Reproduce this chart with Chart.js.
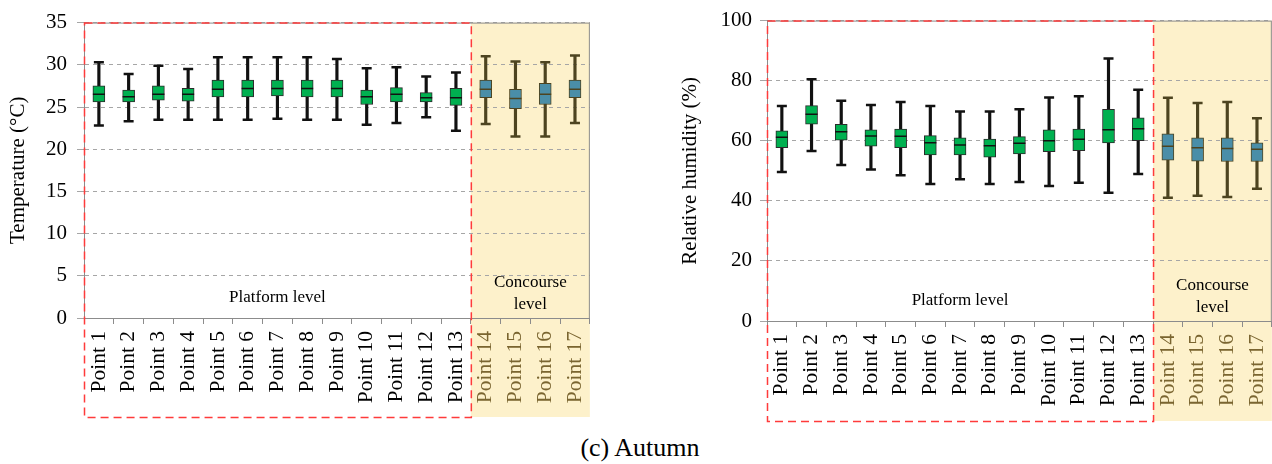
<!DOCTYPE html>
<html>
<head>
<meta charset="utf-8">
<script src="https://cdn.jsdelivr.net/npm/chart.js@4.4.1/dist/chart.umd.min.js"></script>
<style>
  body { margin: 0; background: #fff; width: 1272px; height: 464px; position: relative; overflow: hidden; }
  .wrap { position: absolute; top: 0; }
  #caption { position: absolute; left: 0; width: 1280px; top: 433px; text-align: center;
             font-family: "Liberation Serif", "Times New Roman", serif; font-size: 26px; color: #000; }
</style>
</head>
<body>
<div class="wrap" style="left:0px"><canvas id="chartTemp" width="608" height="420"></canvas></div>
<div class="wrap" style="left:636px"><canvas id="chartRh" width="654" height="424"></canvas></div>
<div id="caption">(c) Autumn</div>
<script>
  "use strict";

  var pointLabels = ["Point 1","Point 2","Point 3","Point 4","Point 5","Point 6","Point 7","Point 8","Point 9",
                     "Point 10","Point 11","Point 12","Point 13","Point 14","Point 15","Point 16","Point 17"];
  var platformCount = 13; // points 1-13 on the platform, 14-17 on the concourse

  // temperature (°C)
  var tempMin    = [22.8,23.3,23.5,23.5,23.5,23.5,23.6,23.5,23.5,22.9,23.1,23.8,22.2, 23.0,21.5,21.5,23.1];
  var tempQ1     = [25.6,25.6,25.8,25.7,26.2,26.2,26.3,26.2,26.2,25.3,25.6,25.6,25.2, 26.1,24.8,25.3,26.1];
  var tempMedian = [26.5,26.2,26.5,26.5,27.1,27.2,27.2,27.2,27.2,26.2,26.5,26.1,26.1, 27.1,26.0,26.5,27.1];
  var tempQ3     = [27.5,27.0,27.5,27.2,28.2,28.2,28.2,28.2,28.2,27.0,27.3,26.7,27.2, 28.2,27.1,27.8,28.2];
  var tempMax    = [30.3,28.9,29.9,29.5,30.9,30.9,30.9,30.9,30.7,29.6,29.7,28.6,29.1, 31.0,30.4,30.3,31.1];

  // relative humidity (%)
  var rhMin    = [49.6,56.6,51.9,50.4,48.5,45.6,47.2,45.6,46.3,44.9,46.0,42.7,48.9, 41.0,41.7,41.3,44.0];
  var rhQ1     = [57.7,65.5,60.2,58.2,57.7,55.3,55.3,54.5,55.6,56.4,56.7,59.3,60.0, 53.5,53.2,53.1,53.1];
  var rhMedian = [61.2,68.8,63.0,61.6,61.5,59.3,58.6,58.3,59.2,60.0,60.5,63.7,64.0, 58.2,57.7,57.4,57.2];
  var rhQ3     = [63.3,71.7,65.5,63.6,63.9,61.7,61.0,60.6,61.4,63.6,63.9,70.5,67.6, 62.3,61.0,61.0,59.3];
  var rhMax    = [71.6,80.5,73.3,71.9,72.9,71.6,69.7,69.7,70.5,74.4,74.8,87.4,77.0, 74.3,72.6,72.9,67.5];

  var serif = "'Liberation Serif', 'Times New Roman', serif";
  var axisGray = "#8c8c8c";
  var shade = "#fdf1cb";

  function perPoint(platformColor, concourseColor) {
    return pointLabels.map(function(_, i) { return i < platformCount ? platformColor : concourseColor; });
  }

  // shading, plot frame, dashed region outline and region captions
  var regionPlugin = {
    id: "regions",
    beforeDraw: function(chart) {
      var ctx = chart.ctx, a = chart.chartArea, x = chart.scales.x;
      var split = (x.getPixelForValue(platformCount - 1) + x.getPixelForValue(platformCount)) / 2;
      ctx.save();
      ctx.fillStyle = shade;
      ctx.fillRect(split, a.top, a.right - split, x.bottom + 1 - a.top);
      ctx.restore();
    },
    afterDraw: function(chart) {
      var ctx = chart.ctx, a = chart.chartArea, x = chart.scales.x;
      var split = (x.getPixelForValue(platformCount - 1) + x.getPixelForValue(platformCount)) / 2;
      ctx.save();
      ctx.strokeStyle = axisGray;
      ctx.lineWidth = 1;
      ctx.strokeRect(a.left + 0.5, a.top + 0.5, a.right - a.left - 1, a.bottom - a.top);

      ctx.strokeStyle = "#ff3b3b";
      ctx.lineWidth = 1.5;
      ctx.setLineDash([8, 5]);
      ctx.strokeRect(a.left + 0.5, a.top + 0.5, split - a.left, x.bottom + 1 - a.top);
      ctx.setLineDash([]);

      ctx.fillStyle = "#000";
      ctx.font = "17px " + serif;
      ctx.textAlign = "center";
      ctx.textBaseline = "middle";
      ctx.fillText("Platform level", (a.left + split) / 2, a.bottom - 20);
      ctx.fillText("Concourse", (split + a.right) / 2, a.bottom - 35);
      ctx.fillText("level", (split + a.right) / 2, a.bottom - 13);
      ctx.restore();
    }
  };

  function boxChart(canvasId, lo, q1, med, q3, hi, yMax, yStep, yTitle, opts) {
    var whiskerColor = perPoint("#111111", "#4d4420");
    return new Chart(document.getElementById(canvasId).getContext("2d"), {
      type: "bar",
      data: {
        labels: pointLabels,
        datasets: [
          { // whisker line from min to max
            type: "bar", order: 4, grouped: false,
            data: lo.map(function(v, i) { return [v, hi[i]]; }),
            backgroundColor: whiskerColor, barThickness: 2.5
          },
          { // interquartile box
            type: "bar", order: 3, grouped: false,
            data: q1.map(function(v, i) { return [v, q3[i]]; }),
            backgroundColor: perPoint("#00b050", "#4a8ea8"),
            borderColor: perPoint("#2b2b2b", "#4d4420"),
            borderWidth: 1, borderSkipped: false, barThickness: 12
          },
          { // upper cap
            type: "line", order: 2, data: hi, showLine: false,
            pointStyle: "line", pointRadius: 5, pointBorderWidth: 2.5, pointBorderColor: whiskerColor
          },
          { // lower cap
            type: "line", order: 2, data: lo, showLine: false,
            pointStyle: "line", pointRadius: 5, pointBorderWidth: 2.5, pointBorderColor: whiskerColor
          },
          { // median
            type: "line", order: 1, data: med, showLine: false,
            pointStyle: "line", pointRadius: 6, pointBorderWidth: 1.5, pointBorderColor: whiskerColor
          }
        ]
      },
      options: {
        responsive: false,
        animation: false,
        events: [],
        layout: { padding: opts.padding },
        plugins: { legend: { display: false }, tooltip: { enabled: false } },
        scales: {
          x: {
            grid: { display: true, drawOnChartArea: false, drawTicks: true, tickLength: 6, color: axisGray, offset: true },
            border: { display: true, color: axisGray },
            ticks: {
              autoSkip: false, minRotation: 90, maxRotation: 90, padding: 7,
              font: { family: serif, size: 21.5 },
              color: function(c) { return c.index < platformCount ? "#000" : "#7a6530"; }
            },
            afterFit: function(s) { s.height = opts.xHeight; }
          },
          y: {
            min: 0, max: yMax,
            ticks: { stepSize: yStep, padding: opts.tickPad, color: "#000", font: { family: serif, size: 21 } },
            grid: { color: "#a6a6a6", lineWidth: 1, tickLength: 7 },
            border: { display: true, color: axisGray, dash: [4, 4] },
            title: { display: true, text: yTitle, color: "#000", font: { family: serif, size: 21 }, padding: 0 },
            afterFit: function(s) { s.width = opts.yWidth; }
          }
        }
      },
      plugins: [regionPlugin]
    });
  }

  boxChart("chartTemp", tempMin, tempQ1, tempMedian, tempQ3, tempMax, 35, 5, "Temperature (\u00B0C)",
           { padding: { left: 6, top: 0, right: 0, bottom: 4 }, yWidth: 78, xHeight: 98, tickPad: 10 });
  boxChart("chartRh", rhMin, rhQ1, rhMedian, rhQ3, rhMax, 100, 20, "Relative humidity (%)",
           { padding: { left: 42, top: 4, right: 0, bottom: 4 }, yWidth: 89, xHeight: 99, tickPad: 8 });
</script>
</body>
</html>
